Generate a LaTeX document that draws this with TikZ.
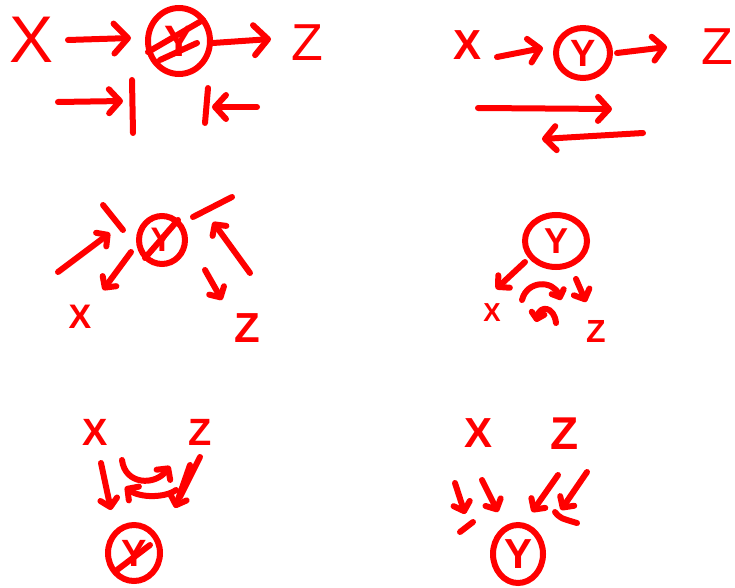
\documentclass[tikz,border=0pt]{standalone}
\usepackage{fontspec}
\setmainfont{Liberation Sans}
\usetikzlibrary{arrows.meta,shapes.geometric}
\definecolor{ink}{RGB}{255,0,0}
\begin{document}
\begin{tikzpicture}[x=1pt,y=-1pt,
  pen/.style={draw=ink,line width=6pt,line cap=round,line join=round},
  letter/.style={text=ink,inner sep=0pt,font=\bfseries\fontsize{#1}{#1}\selectfont},
  thinletter/.style={text=ink,inner sep=0pt,font=\fontsize{#1}{#1}\selectfont},
  ring/.style n args={2}{ellipse,draw=ink,line width=6pt,inner sep=0pt,
    minimum width=#1pt,minimum height=#2pt},
  arrL/.style={pen,-{Straight Barb[round,length=14pt,width=30pt]}},
  arrM/.style={pen,-{Straight Barb[round,length=11pt,width=24pt]}},
  arrS/.style={pen,-{Straight Barb[round,length=8pt,width=17pt]}},
  arrT/.style={pen,-{Straight Barb[round,length=6pt,width=13pt]}}
]
\useasboundingbox (0,0) rectangle (735,588);

% ---------- chain with Y observed: X -> (Y) -> Z, path blocked ----------
\node[thinletter=66] (X1) at (32,40) {X};
\node[ring={62}{66},letter=44] (Y1) at (179,41) {Y};
\node[thinletter=52] (Z1) at (307,43) {Z};
\draw[pen] (148,52) -- (203,20);
\draw[pen] (160,60) -- (197,43);
\coordinate (a1s) at (68,40);   \coordinate (a1e) at (131,38);
\coordinate (a2s) at (213,43);  \coordinate (a2e) at (271,39);
\draw[arrL] (a1s) -- (a1e);
\draw[arrL] (a2s) -- (a2e);
\coordinate (b1s) at (58,102);  \coordinate (b1e) at (123,101);
\coordinate (b2s) at (257,107); \coordinate (b2e) at (212,107);
\draw[arrM] (b1s) -- (b1e);
\draw[pen] (132,80) -- (133,133);
\draw[arrM] (b2s) -- (b2e);
\draw[pen] (208,88) -- (205,123);

% ---------- chain with Y free: X -> Y -> Z, flow both ways ----------
\node[letter=42] (X2) at (467,45) {X};
\node[ring={54}{50},letter=38] (Y2) at (583,53) {Y};
\node[thinletter=52] (Z2) at (717,47) {Z};
\coordinate (c1s) at (497,57);  \coordinate (c1e) at (543,48);
\coordinate (c2s) at (617,53);  \coordinate (c2e) at (667,47);
\draw[arrM] (c1s) -- (c1e);
\draw[arrM] (c2s) -- (c2e);
\coordinate (d1s) at (478,108); \coordinate (d1e) at (612,109);
\coordinate (d2s) at (643,133); \coordinate (d2e) at (542,139);
\draw[arrM] (d1s) -- (d1e);
\draw[arrM] (d2s) -- (d2e);

% ---------- fork with Y observed ----------
\node[ring={46}{48},letter=34] (Y3) at (162,240) {Y};
\node[letter=34] (X3) at (80,317) {X};
\node[letter=42] (Z3) at (247,328) {Z};
\draw[pen] (145,258) -- (178,220);
\coordinate (e1s) at (58,272);  \coordinate (e1e) at (110,233);
\draw[arrS] (e1s) -- (e1e);
\draw[pen] (103,205) -- (123,230);
\coordinate (e2s) at (131,252); \coordinate (e2e) at (103,290);
\draw[arrS] (e2s) -- (e2e);
\coordinate (e3s) at (250,273); \coordinate (e3e) at (213,222);
\draw[arrS] (e3s) -- (e3e);
\draw[pen] (193,217) -- (232,197);
\coordinate (e4s) at (205,270); \coordinate (e4e) at (222,300);
\draw[arrS] (e4s) -- (e4e);

% ---------- fork with Y free ----------
\node[ring={62}{52},letter=36] (Y4) at (556,241) {Y};
\node[letter=26] (X4) at (492,313) {X};
\node[letter=32] (Z4) at (596,331) {Z};
\coordinate (f1s) at (525,262); \coordinate (f1e) at (496,289);
\draw[arrS] (f1s) -- (f1e);
\coordinate (f2s) at (576,279); \coordinate (f2e) at (586,302);
\draw[arrS] (f2s) -- (f2e);
\coordinate (g1s) at (522,300); \coordinate (g1e) at (561,300);
\coordinate (g2s) at (556,323); \coordinate (g2e) at (536,322);
\draw[arrT] (g1s) .. controls (527,280) and (553,280) .. (g1e);
\draw[arrT] (g2s) .. controls (554,306) and (540,305) .. (g2e);

% ---------- collider with Y observed ----------
\node[letter=38] (X5) at (95,432) {X};
\node[letter=38] (Z5) at (200,432) {Z};
\node[ring={52}{56},letter=38] (Y5) at (134,553) {Y};
\draw[pen] (117,570) -- (150,545);
\coordinate (h1s) at (101,463); \coordinate (h1e) at (111,510);
\draw[arrS] (h1s) -- (h1e);
\draw[pen] (200,457) -- (180,497);
\coordinate (h2s) at (190,465); \coordinate (h2e) at (175,508);
\draw[arrS] (h2s) -- (h2e);
\coordinate (k1s) at (122,460); \coordinate (k1e) at (170,466);
\coordinate (k2s) at (176,490); \coordinate (k2e) at (125,487);
\draw[arrS] (k1s) .. controls (125,485) and (155,486) .. (k1e);
\draw[arrS] (k2s) .. controls (165,498) and (140,498) .. (k2e);

% ---------- collider with Y free ----------
\node[letter=42] (X6) at (478,433) {X};
\node[letter=46] (Z6) at (565,434) {Z};
\node[ring={50}{58},letter=42] (Y6) at (518,554) {Y};
\coordinate (m1s) at (455,483); \coordinate (m1e) at (465,514);
\coordinate (m2s) at (482,480); \coordinate (m2e) at (498,512);
\coordinate (m3s) at (558,475); \coordinate (m3e) at (532,512);
\coordinate (m4s) at (587,472); \coordinate (m4e) at (561,510);
\draw[arrS] (m1s) -- (m1e);
\draw[arrS] (m2s) -- (m2e);
\draw[arrS] (m3s) -- (m3e);
\draw[arrS] (m4s) -- (m4e);
\draw[pen] (460,532) -- (473,522);
\draw[pen] (555,512) .. controls (560,518) .. (577,523);
\end{tikzpicture}
\end{document}
